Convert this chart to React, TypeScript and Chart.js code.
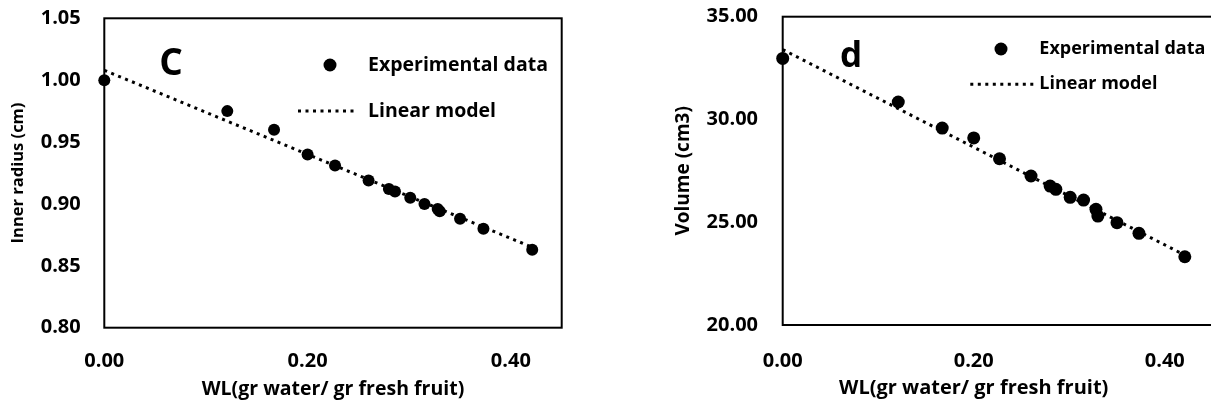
import React, { useEffect, useRef } from "react";
import { Chart, registerables } from "chart.js";

Chart.register(...registerables);

// ---------- data ----------
const wl = [0, 0.121, 0.167, 0.2, 0.227, 0.26, 0.28, 0.286, 0.301, 0.315, 0.328, 0.33, 0.35, 0.373, 0.421];
const innerRadius = [1.0, 0.975, 0.96, 0.94, 0.931, 0.919, 0.912, 0.91, 0.905, 0.9, 0.896, 0.894, 0.888, 0.88, 0.863];
const volume = [32.97, 30.85, 29.58, 29.1, 28.09, 27.25, 26.76, 26.6, 26.21, 26.08, 25.63, 25.3, 24.98, 24.46, 23.32];

const modelWL = [0, 0.421];
const modelRadius = [1.008, 0.865];
const modelVolume = [33.4, 23.4];

const xTicks = [0, 0.2, 0.4];
const yTicksRadius = [0.8, 0.85, 0.9, 0.95, 1.0, 1.05];
const yTicksVolume = [20, 25, 30, 35];

const seriesLabels = ["Experimental data", "Linear model"];
const xTitle = "WL(gr water/ gr fresh fruit)";

const FONT = "'Open Sans', 'DejaVu Sans', sans-serif";

const decorPlugin = {
  id: "panelDecor",
  beforeDatasetsDraw(chart: any) {
    const { ctx, chartArea: a } = chart;
    ctx.save();
    ctx.strokeStyle = "#000";
    ctx.lineWidth = 2;
    ctx.strokeRect(a.left, a.top, a.right - a.left, a.bottom - a.top);
    ctx.restore();
  },
  afterDraw(chart: any, _args: any, o: any) {
    const { ctx, chartArea: a, scales } = chart;
    const ds = chart.data.datasets;
    ctx.save();
    ctx.fillStyle = "#000";
    // panel letter
    ctx.font = `bold ${o.letterSize}px ${FONT}`;
    ctx.textAlign = "center";
    ctx.textBaseline = "alphabetic";
    ctx.fillText(o.letter, a.left + o.letterX, a.top + o.letterY);
    // legend
    ctx.font = `bold ${o.legendSize}px ${FONT}`;
    ctx.textAlign = "left";
    ctx.textBaseline = "middle";
    const lx = a.left + o.legendX;
    const y1 = a.top + o.legendY;
    const y2 = y1 + o.legendGap;
    ctx.beginPath();
    ctx.arc(lx - o.markerOffset, y1, o.markerRadius, 0, Math.PI * 2);
    ctx.fill();
    ctx.fillText(ds[0].label, lx, y1);
    ctx.strokeStyle = "#000";
    ctx.lineWidth = ds[1].borderWidth;
    ctx.setLineDash(ds[1].borderDash);
    ctx.beginPath();
    ctx.moveTo(lx - o.lineStart, y2);
    ctx.lineTo(lx - o.lineEnd, y2);
    ctx.stroke();
    ctx.setLineDash([]);
    ctx.fillText(ds[1].label, lx, y2);
    // x axis title
    ctx.font = `bold ${o.xTitleSize}px ${FONT}`;
    ctx.textAlign = "center";
    ctx.textBaseline = "alphabetic";
    ctx.fillText(o.xTitle, scales.x.getPixelForValue(o.xTitleAt), o.xTitleBaseline);
    ctx.restore();
  },
};

function makeConfig(p: any) {
  return {
    type: "scatter",
    data: {
      datasets: [
        {
          label: seriesLabels[0],
          data: wl.map((x, i) => ({ x, y: p.ys[i] })),
          showLine: false,
          pointRadius: p.pointRadius,
          pointBorderWidth: 0,
          backgroundColor: "#000",
          borderColor: "#000",
          clip: false,
        },
        {
          label: seriesLabels[1],
          data: modelWL.map((x, i) => ({ x, y: p.model[i] })),
          showLine: true,
          pointRadius: 0,
          borderColor: "#000",
          borderWidth: 3,
          borderDash: [3, 4.5],
          fill: false,
          clip: false,
        },
      ],
    },
    options: {
      responsive: false,
      animation: false,
      events: [],
      devicePixelRatio: 1,
      layout: { padding: p.padding, autoPadding: false },
      plugins: {
        legend: { display: false },
        tooltip: { enabled: false },
        panelDecor: p.decor,
      },
      scales: {
        x: {
          type: "linear",
          position: "bottom",
          min: 0,
          max: 0.45,
          grid: { display: false, drawTicks: false },
          border: { display: false },
          afterBuildTicks: (s: any) => {
            s.ticks = xTicks.map((v) => ({ value: v }));
          },
          afterFit: (s: any) => {
            s.height = p.xHeight;
            s.paddingLeft = 0;
            s.paddingRight = 0;
            s.paddingTop = 0;
            s.paddingBottom = 0;
          },
          ticks: {
            color: "#000",
            padding: p.xTickPad,
            font: { family: FONT, size: 20, weight: "bold", lineHeight: 1.2 },
            callback: (v: any) => Number(v).toFixed(2),
          },
          title: { display: false },
        },
        y: {
          type: "linear",
          position: "left",
          min: p.yMin,
          max: p.yMax,
          grid: { display: false, drawTicks: false },
          border: { display: false },
          afterBuildTicks: (s: any) => {
            s.ticks = p.yTicks.map((v: number) => ({ value: v }));
          },
          afterFit: (s: any) => {
            s.width = p.yWidth;
            s.paddingLeft = 0;
            s.paddingRight = 0;
            s.paddingTop = 0;
            s.paddingBottom = 0;
          },
          ticks: {
            color: "#000",
            padding: p.yTickPad,
            font: { family: FONT, size: 20, weight: "bold", lineHeight: 1.2 },
            callback: (v: any) => Number(v).toFixed(2),
          },
          title: {
            display: true,
            text: p.yTitle,
            color: "#000",
            font: { family: FONT, size: p.yTitleSize, weight: "bold", lineHeight: 1 },
            padding: { top: p.yTitlePad, bottom: 0 },
          },
        },
      },
    },
    plugins: [decorPlugin],
  };
}

function Panel({ left, width, cfg }: { left: number; width: number; cfg: any }) {
  const ref = useRef<HTMLCanvasElement | null>(null);
  useEffect(() => {
    if (!ref.current) return;
    const chart = new Chart(ref.current, makeConfig(cfg) as any);
    return () => chart.destroy();
  }, []);
  return (
    <canvas
      ref={ref}
      width={width}
      height={405}
      style={{ position: "absolute", left, top: 0, width, height: 405 }}
    />
  );
}

const panelC = {
  ys: innerRadius,
  model: modelRadius,
  yMin: 0.8,
  yMax: 1.05,
  yTicks: yTicksRadius,
  yTitle: "Inner radius (cm)",
  yTitleSize: 16.5,
  yTitlePad: 10,
  yWidth: 104.3,
  yTickPad: 23.6,
  xHeight: 77.3,
  xTickPad: 22,
  pointRadius: 6,
  padding: { top: 18.3, right: 38.3, bottom: 0, left: 0 },
  decor: {
    letter: "C",
    letterSize: 37,
    letterX: 66.7,
    letterY: 56.7,
    legendSize: 19.5,
    legendX: 263.7,
    legendY: 46.7,
    legendGap: 46,
    markerOffset: 38,
    markerRadius: 6.5,
    lineStart: 70,
    lineEnd: 10,
    xTitle,
    xTitleSize: 19.5,
    xTitleAt: 0.225,
    xTitleBaseline: 395,
  },
};

const panelD = {
  ys: volume,
  model: modelVolume,
  yMin: 20,
  yMax: 35,
  yTicks: yTicksVolume,
  yTitle: "Volume (cm3)",
  yTitleSize: 19,
  yTitlePad: 64.5,
  yWidth: 172.7,
  yTickPad: 24.7,
  xHeight: 80,
  xTickPad: 24.7,
  pointRadius: 6.5,
  padding: { top: 16.7, right: 7.5, bottom: 0, left: 0 },
  decor: {
    letter: "d",
    letterSize: 35,
    letterX: 68.3,
    letterY: 50,
    legendSize: 18,
    legendX: 256.6,
    legendY: 32.3,
    legendGap: 35.3,
    markerOffset: 38.3,
    markerRadius: 6.5,
    lineStart: 69,
    lineEnd: 6,
    xTitle,
    xTitleSize: 20,
    xTitleAt: 0.2,
    xTitleBaseline: 394,
  },
};

export default function App() {
  return (
    <div
      style={{
        position: "absolute",
        left: 0,
        top: 0,
        width: 1211,
        height: 405,
        overflow: "hidden",
        background: "#fff",
      }}
    >
      <Panel left={0} width={600} cfg={panelC} />
      <Panel left={610} width={610} cfg={panelD} />
    </div>
  );
}
